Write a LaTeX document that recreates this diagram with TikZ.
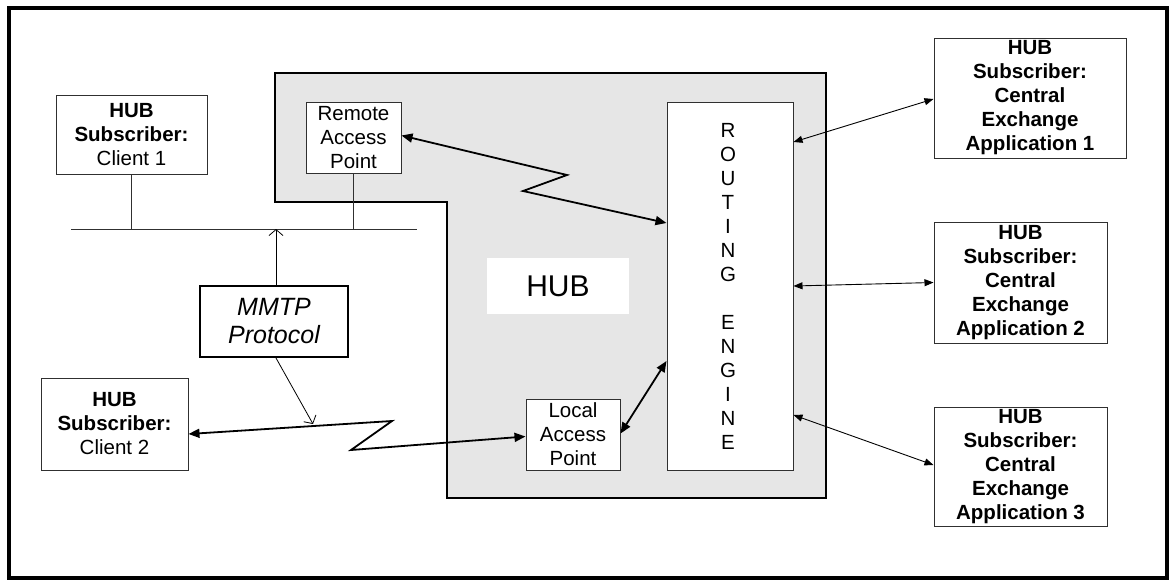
\documentclass[tikz,border=0pt]{standalone}
\usepackage{fontspec}
\setmainfont{Liberation Sans}
\usetikzlibrary{arrows.meta}
\definecolor{hubgray}{HTML}{E6E6E6}
\definecolor{boxline}{HTML}{303030}

\begin{document}
\begin{tikzpicture}[x=1pt,y=-1pt,
  box/.style={draw=boxline, line width=1pt, fill=white, inner sep=0pt, align=center,
              font=\fontsize{20.5}{24}\selectfont},
  thinarrow/.style={line width=0.9pt,
              arrows={Triangle[length=9pt,width=7pt]-Triangle[length=9pt,width=7pt]}},
  thickarrow/.style={line width=1.8pt,
              arrows={Triangle[length=11pt,width=9pt]-Triangle[length=11pt,width=9pt]}},
  openarrow/.style={line width=0.8pt, -{Straight Barb[length=6pt,width=14pt]}},
  wire/.style={line width=1pt, draw=boxline}]

% page extent and outer frame
\useasboundingbox (0,0) rectangle (1170,581);
\draw[line width=3.5pt] (9,8) rectangle (1167,578);

% shaded HUB area
\draw[line width=2pt, fill=hubgray]
  (275,73) -- (826,73) -- (826,498) -- (447,498) -- (447,202) -- (275,202) -- cycle;

% HUB label
\node[fill=white, inner sep=0pt, minimum width=142pt, minimum height=56pt,
      font=\fontsize{30}{34}\selectfont] (hublabel) at (558,286) {HUB};

% routing engine
\node[box, minimum width=126pt, minimum height=368pt] (routing) at (730,286) {};
\node[font=\fontsize{20.5}{24}\selectfont, align=center, inner sep=0pt] (routingtext) at (728,286)
  {R\\O\\U\\T\\I\\N\\G\\[24pt]E\\N\\G\\I\\N\\E};

% access points
\node[box, minimum width=95pt, minimum height=71pt] (remote) at (353.5,137.5)
  {Remote\\Access\\Point};
\node[box, minimum width=94pt, minimum height=71pt] (local) at (573,434.5)
  {Local\\Access\\Point};

% subscribers
\node[box, minimum width=151pt, minimum height=79pt] (client1) at (131.5,135)
  {\textbf{HUB}\\\textbf{Subscriber:}\\Client 1};
\node[box, minimum width=147pt, minimum height=92pt] (client2) at (114.5,424)
  {\textbf{HUB}\\\textbf{Subscriber:}\\Client 2};
\node[box, minimum width=192pt, minimum height=120pt] (app1) at (1030,98)
  {\textbf{HUB}\\\textbf{Subscriber:}\\\textbf{Central}\\\textbf{Exchange}\\\textbf{Application 1}};
\node[box, minimum width=173pt, minimum height=121pt] (app2) at (1020.5,282.5)
  {\textbf{HUB}\\\textbf{Subscriber:}\\\textbf{Central}\\\textbf{Exchange}\\\textbf{Application 2}};
\node[box, minimum width=173pt, minimum height=119pt] (app3) at (1020.5,466.5)
  {\textbf{HUB}\\\textbf{Subscriber:}\\\textbf{Central}\\\textbf{Exchange}\\\textbf{Application 3}};

% protocol label
\node[draw, line width=2pt, fill=white, inner sep=0pt, minimum width=148pt, minimum height=71pt,
      align=center, font=\fontsize{25}{28}\selectfont\itshape] (mmtp) at (274,321.5)
  {MMTP\\Protocol};

% local bus
\coordinate (busL) at (71,229);
\coordinate (busR) at (417,229);
\coordinate (busTap) at (276,229);
\draw[wire] (busL) -- (busR);
\draw[wire] (client1.south) -- (client1.south |- busL);
\draw[wire] (remote.south) -- (remote.south |- busL);
\draw[openarrow] ([xshift=2pt]mmtp.north) -- (busTap);

% radio link between Client 2 and the local access point
\coordinate (zA) at (392,421);
\coordinate (zB) at (351,450);
\draw[thickarrow] ([yshift=-10pt]client2.east) -- (zA) -- (zB) -- ([yshift=-2pt]local.west);
\coordinate (linkmark) at (313,424);
\draw[openarrow] ([xshift=2pt]mmtp.south) -- (linkmark);

% radio link between the remote access point and the routing engine
\coordinate (zC) at (567,175);
\coordinate (zD) at (523,191);
\draw[thickarrow] ([yshift=2pt]remote.east) -- (zC) -- (zD) -- ([yshift=63pt]routing.west);

% local access point to routing engine
\draw[thickarrow] ([yshift=1pt]local.east) -- ([yshift=-75pt]routing.west);

% routing engine to central exchange applications
\draw[thinarrow] ([yshift=144pt]routing.east) -- ([yshift=-1pt]app1.west);
\draw[thinarrow] (routing.east) -- (app2.west);
\draw[thinarrow] ([yshift=-129pt]routing.east) -- ([yshift=1.5pt]app3.west);
\end{tikzpicture}
\end{document}
